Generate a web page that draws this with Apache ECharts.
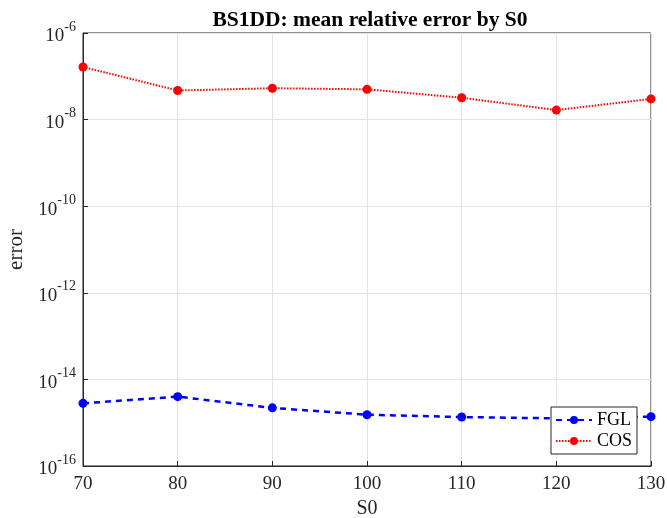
<!DOCTYPE html>
<html><head><meta charset="utf-8">
<script src="https://cdn.jsdelivr.net/npm/echarts@6/dist/echarts.min.js"></script>
<style>html,body{margin:0;padding:0;background:#fff}#c{width:667px;height:518px}</style>
</head><body><div id="c"></div>
<script>
const categories = [70, 80, 90, 100, 110, 120, 130];
const fglValues = [2.8e-15, 4.0e-15, 2.2e-15, 1.53e-15, 1.35e-15, 1.26e-15, 1.38e-15];
const cosValues = [1.64e-7, 4.7e-8, 5.3e-8, 5.0e-8, 3.2e-8, 1.66e-8, 3.0e-8];
const yTickExponents = [-16, -14, -12, -10, -8, -6];
const titleText = 'BS1DD: mean relative error by S0';

const font = 'Liberation Serif';
const chart = echarts.init(document.getElementById('c'), null, {renderer: 'canvas'});
chart.setOption({
  backgroundColor: '#fff',
  animation: false,
  title: {text: titleText, left: 365, top: 4, textAlign: 'center',
    textStyle: {fontFamily: font, fontSize: 21.5, fontWeight: 'bold', color: '#000'}},
  grid: {left: 83, right: 16, top: 33, bottom: 52, containLabel: false, outerBoundsMode: 'none',
    show: true, borderColor: '#262626', borderWidth: 1, backgroundColor: 'transparent'},
  legend: {
    orient: 'vertical', right: 30, bottom: 64,
    data: ['FGL', 'COS'],
    itemWidth: 36, itemHeight: 10, itemGap: 3,
    padding: [4, 5, 4, 4],
    borderColor: '#262626', borderWidth: 1, backgroundColor: '#fff',
    textStyle: {fontFamily: font, fontSize: 18, lineHeight: 18, color: '#000'}
  },
  xAxis: {
    type: 'value', min: 70, max: 130, interval: 10,
    name: 'S0', nameLocation: 'middle', nameGap: 26,
    nameTextStyle: {fontFamily: font, fontSize: 20, color: '#262626'},
    axisLine: {lineStyle: {color: '#262626'}},
    axisTick: {inside: true, length: 5, lineStyle: {color: '#262626'}},
    axisLabel: {fontFamily: font, fontSize: 19, color: '#262626', margin: 9, hideOverlap: false},
    splitLine: {show: true, lineStyle: {color: '#e3e3e3'}}
  },
  yAxis: {
    type: 'log', logBase: 10, min: 1e-16, max: 1e-6, interval: 2,
    name: 'error', nameLocation: 'middle', nameGap: 50, nameRotate: 90,
    nameTextStyle: {fontFamily: font, fontSize: 21, color: '#262626'},
    axisLine: {show: true, lineStyle: {color: '#262626'}},
    axisTick: {inside: true, length: 5, lineStyle: {color: '#262626'}},
    axisLabel: {
      margin: 7,
      formatter: function (v) {
        const e = Math.round(Math.log10(v));
        if (yTickExponents.indexOf(e) < 0) return '';
        return '{b|10}{s|' + e + '}';
      },
      rich: {
        b: {fontFamily: font, fontSize: 19, color: '#262626', verticalAlign: 'bottom'},
        s: {fontFamily: font, fontSize: 14, color: '#262626', verticalAlign: 'top', padding: [0, 0, 12, 0]}
      }
    },
    splitLine: {show: true, lineStyle: {color: '#e3e3e3'}}
  },
  series: [
    {name: 'FGL', type: 'line', data: categories.map((c, i) => [c, fglValues[i]]),
      symbol: 'circle', symbolSize: 9,
      itemStyle: {color: '#0000ff'},
      lineStyle: {color: '#0000ff', width: 2.5, type: [6, 5]}},
    {name: 'COS', type: 'line', data: categories.map((c, i) => [c, cosValues[i]]),
      symbol: 'circle', symbolSize: 9,
      itemStyle: {color: '#ff0000'},
      lineStyle: {color: '#ff0000', width: 2, type: [1.5, 1.5]}}
  ]
});
</script></body></html>
